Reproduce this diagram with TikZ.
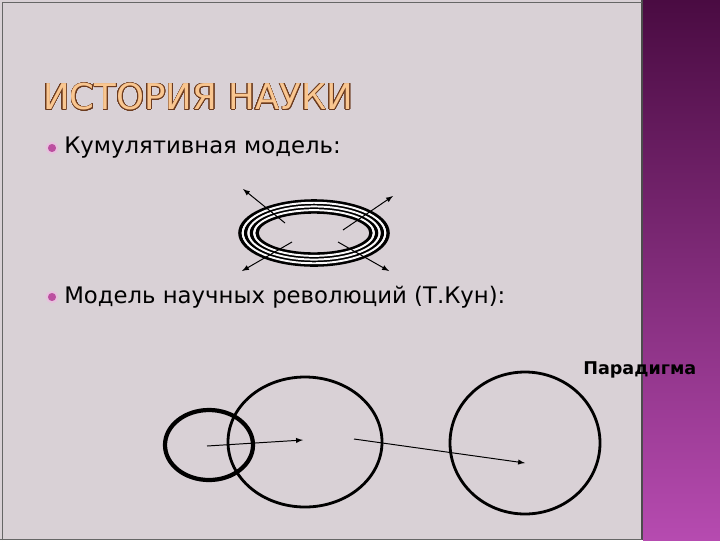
\documentclass[tikz,border=0pt]{standalone}
\usepackage{fontspec}
\setmainfont{DejaVu Sans}
\usepackage{contour}
\contournumber{32}
\contourlength{0.45pt}
\definecolor{slidebg}{HTML}{D9D1D6}
\definecolor{paneltop}{HTML}{4A0B42}
\definecolor{panelbot}{HTML}{B64BB0}
\definecolor{titlefill}{HTML}{F9C690}
\definecolor{titleedge}{HTML}{6B3A1E}
\definecolor{bulletmag}{HTML}{B0308F}

\begin{document}
\begin{tikzpicture}[x=0.025cm, y=-0.025cm,
    every node/.style={inner sep=0pt},
    item/.style={anchor=west, font=\fontsize{16.2}{19}\selectfont},
    dot/.style={circle, draw=bulletmag!30, fill=bulletmag!85, line width=1.4pt, minimum size=7.5pt},
    ring/.style={draw=black, line width=2.4pt},
    gap/.style={draw=white!85!slidebg, line width=1.4pt},
    arr/.style={-latex, line width=0.7pt}]

    % slide
    \useasboundingbox (0,0) rectangle (720,540);
    \fill[slidebg] (0,0) rectangle (643,540);
    \shade[top color=paneltop, bottom color=panelbot] (643,0) rectangle (720,540);
    \draw[black!70, line width=0.8pt] (642,0) -- (642,540);
    \draw[black!60, line width=0.6pt] (2,540) -- (2,2) -- (642,2);
    \draw[black!60, line width=0.6pt] (0,539) -- (642,539);

    \node[anchor=west] (title) at (43,97)
        {\fontsize{25.3}{30}\selectfont\contour{titleedge}{\textcolor{titlefill}{ИСТОРИЯ НАУКИ}}};

    \node[dot] (b1) at (52,148) {};
    \node[item] (cum) at (64,148) {Кумулятивная модель:};
    \node[dot] (b2) at (52,297) {};
    \node[item] (kuhn) at (64,297) {Модель научных революций (Т.Кун):};

    % cumulative model
    \coordinate (c) at (314,233);
    \foreach \i in {0,...,3}
        \draw[ring] (c) ellipse ({57+5.7*\i} and {21+3.7*\i});
    \foreach \i in {0,...,2}
        \draw[gap] (c) ellipse ({59.85+5.7*\i} and {22.85+3.7*\i});

    \coordinate (a1) at (285,223); \coordinate (e1) at (243,189);
    \coordinate (a2) at (343,230); \coordinate (e2) at (393,196);
    \coordinate (a3) at (292,242); \coordinate (e3) at (242,271);
    \coordinate (a4) at (338,242); \coordinate (e4) at (389,271);
    \draw[arr] (a1) -- (e1);
    \draw[arr] (a2) -- (e2);
    \draw[arr] (a3) -- (e3);
    \draw[arr] (a4) -- (e4);

    % revolutions
    \coordinate (old) at (209,445);
    \coordinate (mid) at (305,442);
    \coordinate (new) at (525,443);
    \draw[line width=3pt] (old) ellipse (44 and 35);
    \draw[line width=2pt] (mid) ellipse (77 and 65);
    \draw[line width=2pt] (new) ellipse (75 and 71);

    \coordinate (p1) at (207,446); \coordinate (q1) at (303,440);
    \coordinate (p2) at (354,439); \coordinate (q2) at (525,463);
    \draw[arr] (p1) -- (q1);
    \draw[arr] (p2) -- (q2);

    \node[anchor=west, font=\bfseries\fontsize{12.5}{15}\selectfont] (par) at (583,370) {Парадигма};
\end{tikzpicture}
\end{document}
